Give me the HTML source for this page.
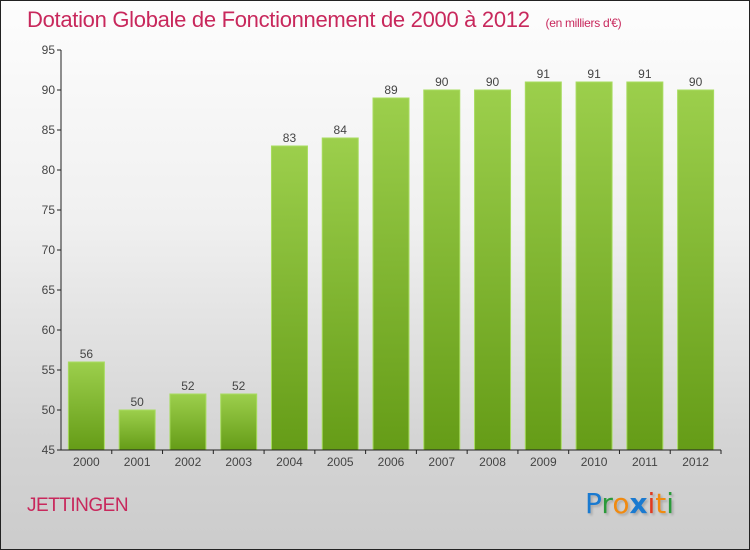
<!DOCTYPE html>
<html><head><meta charset="utf-8"><style>
body{margin:0;}
#c{width:750px;height:550px;position:relative;box-sizing:border-box;border:1px solid #222;background:linear-gradient(#fdfdfd,#f0f0f0 40%,#d4d4d4 80%,#cccccc);font-family:"Liberation Sans",sans-serif;overflow:hidden}
</style></head><body>
<div id="c">
<div style="position:absolute;left:26px;top:6px;font-size:22px;color:#c8285c;letter-spacing:-0.3px">Dotation Globale de Fonctionnement de 2000 à 2012 <span style="font-size:12px;margin-left:10px">(en milliers d'€)</span></div>
<svg id="s" width="750" height="550" style="position:absolute;left:-1px;top:-1px">
<defs><linearGradient id="g" x1="0" y1="0" x2="0" y2="1"><stop offset="0" stop-color="#9ccf4c"/><stop offset="1" stop-color="#659c17"/></linearGradient></defs>
</svg>
<div style="position:absolute;left:26px;top:494px;font-size:19px;color:#c8285c;letter-spacing:-0.5px">JETTINGEN</div>
<div style="position:absolute;left:584px;top:486px;font-size:28px;font-family:'DejaVu Sans',sans-serif;text-shadow:2px 2px 2px #aaa"><span style="color:#1a7ad0">P</span><span style="color:#2a9a3a">r</span><span style="color:#f08a10">o</span><span style="color:#1a7ad0;font-weight:bold">x</span><span style="color:#e03a20">i</span><span style="color:#f08a10">t</span><span style="color:#2a9a3a">i</span></div>
</div>
<script>
const years=["2000","2001","2002","2003","2004","2005","2006","2007","2008","2009","2010","2011","2012"];
const values=[56,50,52,52,83,84,89,90,90,91,91,91,90];
const yTicks=[45,50,55,60,65,70,75,80,85,90,95];
const s=document.getElementById('s');const NS='http://www.w3.org/2000/svg';
const x0=61,x1=721,yMin=45,yMax=95,pTop=50,pBot=450;
const bw=(x1-x0)/years.length;
const y=v=>pBot-(v-yMin)/(yMax-yMin)*(pBot-pTop);
function mk(t,a,txt){const e=document.createElementNS(NS,t);for(const k in a)e.setAttribute(k,a[k]);if(txt!==undefined)e.textContent=txt;s.appendChild(e);return e;}
years.forEach((yr,i)=>{const cx=x0+bw*(i+0.5);
const r=mk('rect',{x:cx-18,y:y(values[i]),width:36,height:pBot-y(values[i]),fill:'url(#g)',stroke:'#a8dc60','stroke-width':1});


const l=mk('text',{x:cx,y:y(values[i])-4,'text-anchor':'middle','font-size':12,fill:'#444','font-family':'Liberation Sans'},values[i]);


const xl=mk('text',{x:cx,y:pBot+16,'text-anchor':'middle','font-size':12,fill:'#444','font-family':'Liberation Sans'},yr);


mk('line',{x1:x0+bw*(i+1),x2:x0+bw*(i+1),y1:pBot,y2:pBot+4,stroke:'#222'});
});
yTicks.forEach(t=>{mk('line',{x1:x0-4,x2:x0,y1:y(t),y2:y(t),stroke:'#222'});
const tl=mk('text',{x:x0-6,y:y(t)+4,'text-anchor':'end','font-size':12,fill:'#444','font-family':'Liberation Sans'},t);

});
const ya=mk('line',{x1:x0,x2:x0,y1:pTop,y2:pBot,stroke:'#222'});


const xa=mk('line',{x1:x0,x2:x1,y1:pBot,y2:pBot,stroke:'#222'});


</script>
</body></html>
